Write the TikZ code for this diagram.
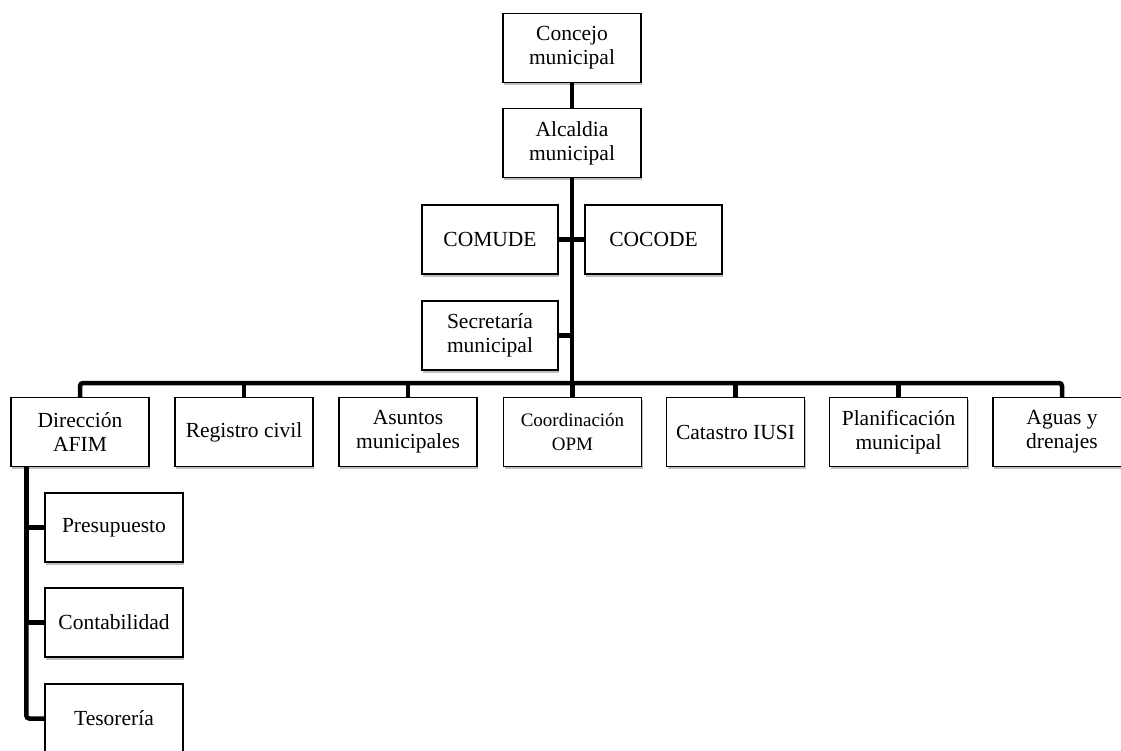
\documentclass[tikz,border=0pt]{standalone}
\usepackage{fontspec}
\setmainfont{Liberation Serif}
\usepackage{tikz}
\usetikzlibrary{shadows}

\tikzset{
  unit/.style={draw, line width=1.4pt, minimum width=138pt, minimum height=69pt,
    inner sep=2pt, align=center, fill=white, font=\fontsize{21.5}{24}\selectfont,
    drop shadow={shadow xshift=1pt, shadow yshift=-2.5pt, fill=black!25, opacity=1}},
  link/.style={line width=4.5pt},
}

\begin{document}
\begin{tikzpicture}[x=1pt, y=-1pt]
\useasboundingbox (0,0) rectangle (1121,750);
% upper chain
\node[unit] (cm) at (572,48) {Concejo\\municipal};
\node[unit] (am) at (572,143) {Alcaldia\\municipal};
\node[unit, minimum width=136pt] (comude) at (490,239.5) {COMUDE};
\node[unit, minimum width=137pt] (cocode) at (653.5,239.5) {COCODE};
\node[unit, minimum width=136pt] (sm) at (490,335.5) {Secretaría\\municipal};
\coordinate (bar) at (572,383);
% second level
\node[unit] (afim) at (80,432) {Dirección\\AFIM};
\node[unit] (rc) at (244,432) {Registro civil};
\node[unit] (asm) at (408,432) {Asuntos\\municipales};
\node[unit, font=\fontsize{19}{24}\selectfont] (opm) at (572.5,432) {Coordinación\\OPM};
\node[unit] (iusi) at (735.5,432) {Catastro IUSI};
\node[unit] (plm) at (898.5,432) {Planificación\\municipal};
\node[unit] (agd) at (1062,432) {Aguas y\\drenajes};
% under AFIM
\node[unit] (pres) at (114,527.5) {Presupuesto};
\node[unit] (cont) at (114,622.5) {Contabilidad};
\node[unit] (tes) at (114,718.5) {Tesorería};
\coordinate (afimdown) at ([xshift=16pt]afim.south west);

\draw[link] (cm) -- (am);
\draw[link] (am.south) -- (am.south |- bar);
\draw[link] (comude.east) -- (comude.east -| am.south);
\draw[link] (cocode.west) -- (cocode.west -| am.south);
\draw[link] (sm.east) -- (sm.east -| am.south);
\draw[link, rounded corners=3pt] (afim.north) |- (agd.north |- bar) -- (agd.north);
\draw[link] (rc.north) -- (rc.north |- bar);
\draw[link] (asm.north) -- (asm.north |- bar);
\draw[link] (opm.north) -- (opm.north |- bar);
\draw[link] (iusi.north) -- (iusi.north |- bar);
\draw[link] (plm.north) -- (plm.north |- bar);
\draw[link] (afimdown) |- (pres.west);
\draw[link] (afimdown) |- (cont.west);
\draw[link, rounded corners=3pt] (afimdown) |- (tes.west);
\end{tikzpicture}
\end{document}
